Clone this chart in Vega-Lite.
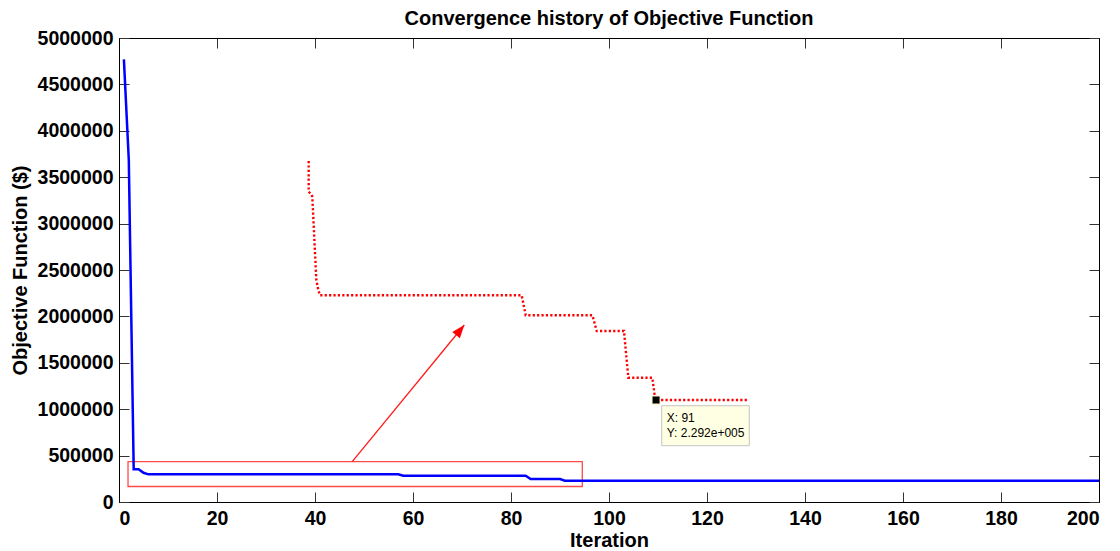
{
  "$schema": "https://vega.github.io/schema/vega-lite/v6.json",
  "width": 980,
  "height": 464,
  "autosize": {"type": "none"},
  "padding": {"left": 119, "top": 38, "right": 21, "bottom": 49},
  "background": "white",
  "config": {
    "font": "Liberation Sans",
    "view": {"stroke": "black", "strokeWidth": 1},
    "axis": {
      "grid": false,
      "domainColor": "black",
      "domainWidth": 1,
      "tickColor": "#333333",
      "tickWidth": 1,
      "tickSize": -10,
      "labelColor": "black",
      "labelFontSize": 19.5,
      "labelFontWeight": "bold",
      "titleColor": "black",
      "titleFontSize": 20,
      "titleFontWeight": "bold"
    }
  },
  "title": {
    "text": "Convergence history of Objective Function",
    "fontSize": 20,
    "fontWeight": "bold",
    "color": "black",
    "anchor": "middle",
    "offset": -1
  },
  "datasets": {
    "history": [
      {"iteration": 1, "objective": 4770000},
      {"iteration": 2, "objective": 3685000},
      {"iteration": 3, "objective": 352000},
      {"iteration": 4, "objective": 352000},
      {"iteration": 5, "objective": 315000},
      {"iteration": 6, "objective": 298000},
      {"iteration": 57, "objective": 298000},
      {"iteration": 58, "objective": 283000},
      {"iteration": 83, "objective": 283000},
      {"iteration": 84, "objective": 248000},
      {"iteration": 90, "objective": 248000},
      {"iteration": 91, "objective": 229200},
      {"iteration": 200, "objective": 229200}
    ],
    "inset": [
      {"ix": 38.71, "iy": 3674600},
      {"ix": 38.71, "iy": 3343800},
      {"ix": 39.24, "iy": 3315700},
      {"ix": 39.45, "iy": 3289900},
      {"ix": 40.27, "iy": 2392300},
      {"ix": 40.67, "iy": 2284500},
      {"ix": 41.02, "iy": 2227400},
      {"ix": 82.18, "iy": 2227400},
      {"ix": 83.0, "iy": 2011900},
      {"ix": 96.6, "iy": 2011900},
      {"ix": 97.5, "iy": 1842700},
      {"ix": 103.06, "iy": 1842700},
      {"ix": 103.94, "iy": 1339400},
      {"ix": 108.84, "iy": 1339400},
      {"ix": 109.45, "iy": 1099100},
      {"ix": 128.43, "iy": 1099100}
    ],
    "zoombox": [{"bx1": 1.84, "bx2": 94.55, "by1": 167000, "by2": 434300}],
    "arrow": [{"ax1": 47.6, "ay1": 434300, "ax2": 70.47, "ay2": 1907300}],
    "tipbox": [{"tx1": 110.76, "tx2": 128.63, "ty1": 606700, "ty2": 1037700}],
    "tipmark": [{"mx": 109.6, "my": 1099100}],
    "tiptext": [
      {"lx": 111.78, "ly": 865300, "label": "X: 91"},
      {"lx": 111.78, "ly": 697200, "label": "Y: 2.292e+005"}
    ]
  },
  "resolve": {"axis": {"x": "independent", "y": "independent"}},
  "layer": [
    {
      "data": {"name": "zoombox"},
      "mark": {"type": "rect", "fillOpacity": 0, "stroke": "#ff4a4a", "strokeWidth": 1.3},
      "encoding": {
        "x": {"field": "bx1", "type": "quantitative", "scale": {"domain": [0, 200], "nice": false}, "axis": null},
        "x2": {"field": "bx2"},
        "y": {"field": "by1", "type": "quantitative", "scale": {"domain": [0, 5000000], "nice": false}, "axis": null},
        "y2": {"field": "by2"}
      }
    },
    {
      "data": {"name": "history"},
      "mark": {"type": "line", "color": "#0000ff", "strokeWidth": 2.5},
      "encoding": {
        "x": {
          "field": "iteration", "type": "quantitative",
          "axis": {"orient": "bottom", "title": "Iteration", "values": [0, 20, 40, 60, 80, 100, 120, 140, 160, 180, 200], "labelPadding": 17, "titlePadding": 3}
        },
        "y": {
          "field": "objective", "type": "quantitative",
          "axis": {"orient": "left", "title": "Objective Function ($)", "format": "d",
            "values": [0, 500000, 1000000, 1500000, 2000000, 2500000, 3000000, 3500000, 4000000, 4500000, 5000000],
            "labelPadding": 16, "titlePadding": 7}
        }
      }
    },
    {
      "data": {"name": "inset"},
      "mark": {"type": "line", "color": "#ff0000", "strokeWidth": 2.4, "strokeDash": [2.2, 2.2], "strokeCap": "butt"},
      "encoding": {
        "x": {"field": "ix", "type": "quantitative",
          "axis": {"orient": "top", "labels": false, "title": null, "values": [0, 20, 40, 60, 80, 100, 120, 140, 160, 180, 200]}},
        "y": {"field": "iy", "type": "quantitative",
          "axis": {"orient": "right", "labels": false, "title": null,
            "values": [0, 500000, 1000000, 1500000, 2000000, 2500000, 3000000, 3500000, 4000000, 4500000, 5000000]}}
      }
    },
    {
      "data": {"name": "arrow"},
      "mark": {"type": "rule", "color": "#ff1a1a", "strokeWidth": 1.3},
      "encoding": {
        "x": {"field": "ax1", "type": "quantitative", "axis": null},
        "x2": {"field": "ax2"},
        "y": {"field": "ay1", "type": "quantitative", "axis": null},
        "y2": {"field": "ay2"}
      }
    },
    {
      "data": {"name": "arrow"},
      "mark": {"type": "point", "shape": "M0,0L-0.38,1L0.38,1Z", "filled": true, "color": "#ff0000", "opacity": 1, "size": 676, "angle": 39.3},
      "encoding": {
        "x": {"field": "ax2", "type": "quantitative", "axis": null},
        "y": {"field": "ay2", "type": "quantitative", "axis": null}
      }
    },
    {
      "data": {"name": "tipbox"},
      "mark": {"type": "rect", "fill": "#ffffe3", "stroke": "#c4c4c4", "strokeWidth": 1},
      "encoding": {
        "x": {"field": "tx1", "type": "quantitative", "axis": null},
        "x2": {"field": "tx2"},
        "y": {"field": "ty1", "type": "quantitative", "axis": null},
        "y2": {"field": "ty2"}
      }
    },
    {
      "data": {"name": "tipmark"},
      "mark": {"type": "point", "shape": "square", "filled": true, "color": "black", "opacity": 1, "size": 64, "stroke": "#f3f3c8", "strokeWidth": 1},
      "encoding": {
        "x": {"field": "mx", "type": "quantitative", "axis": null},
        "y": {"field": "my", "type": "quantitative", "axis": null}
      }
    },
    {
      "data": {"name": "tiptext"},
      "mark": {"type": "text", "align": "left", "baseline": "alphabetic", "fontSize": 12, "color": "black", "font": "Liberation Sans"},
      "encoding": {
        "x": {"field": "lx", "type": "quantitative", "axis": null},
        "y": {"field": "ly", "type": "quantitative", "axis": null},
        "text": {"field": "label"}
      }
    }
  ]
}
